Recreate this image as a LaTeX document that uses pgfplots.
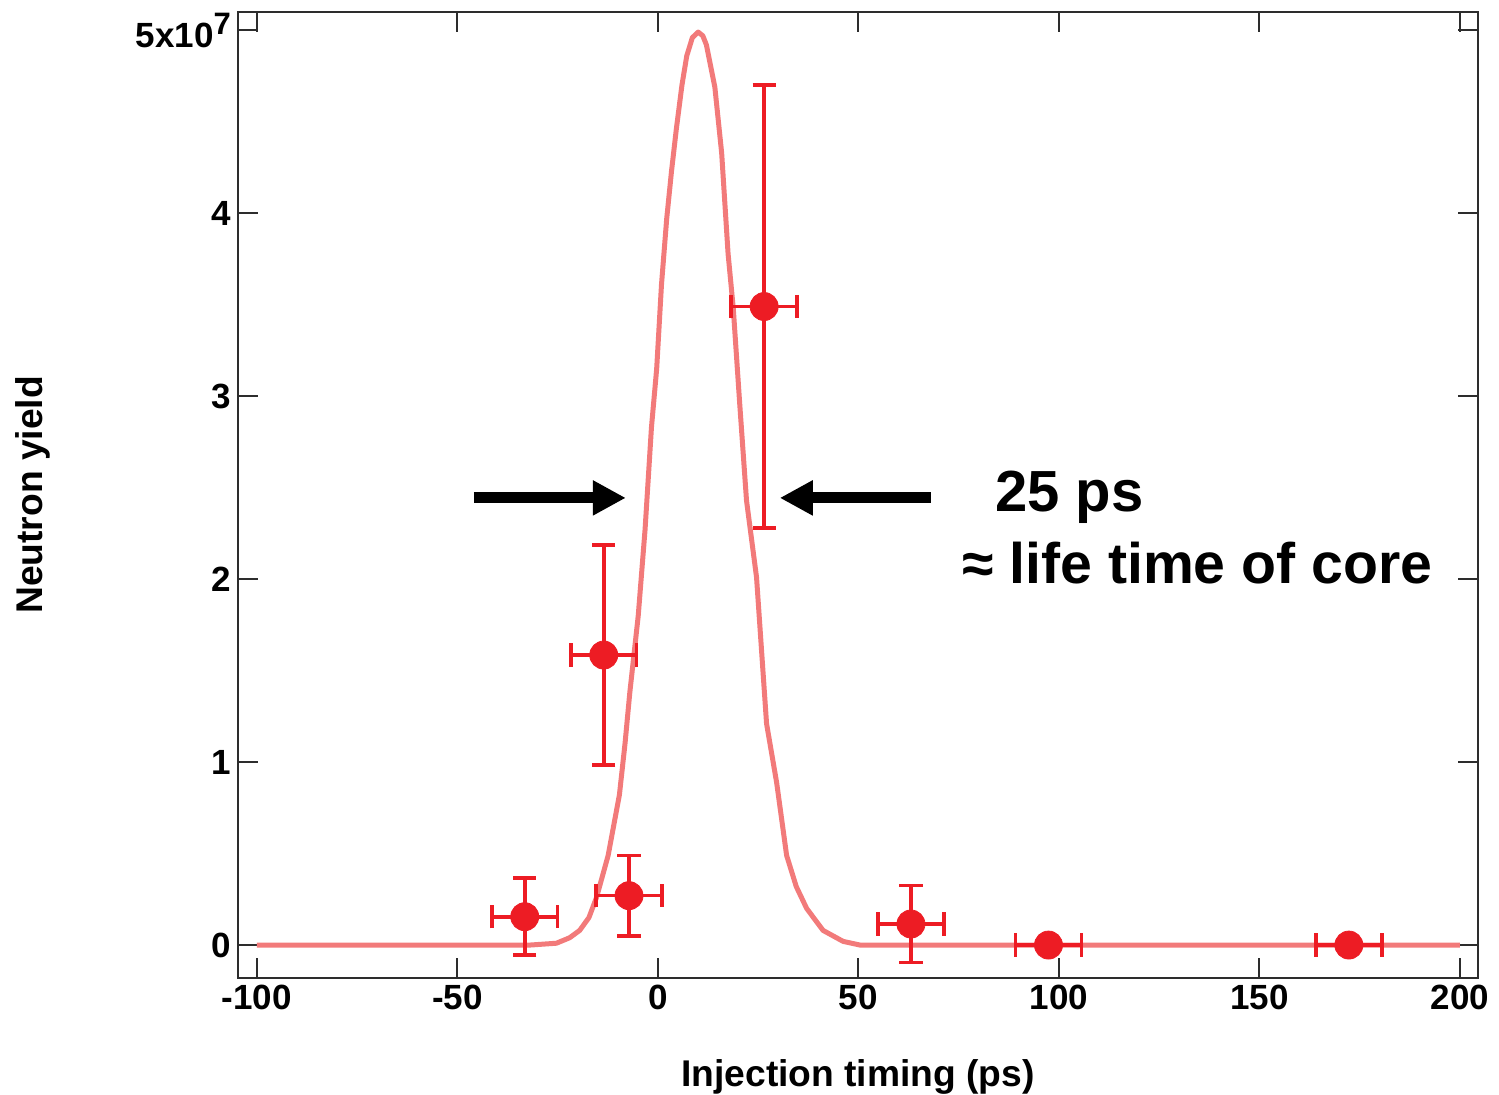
\documentclass[border=0pt]{standalone}
\usepackage{pgfplots}
\pgfplotsset{compat=1.18}
\usepackage{fontspec}
\setmainfont{Liberation Sans}
\usetikzlibrary{arrows.meta}
\definecolor{curvecol}{RGB}{242,122,122}
\definecolor{ptcol}{RGB}{237,28,36}
\definecolor{axcol}{RGB}{45,45,45}
\begin{document}
\begin{tikzpicture}
\path[use as bounding box] (-119pt,-58.5pt) rectangle (630.5pt,489pt);
\begin{axis}[
 at={(0,0)}, anchor=south west,
 scale only axis, width=620pt, height=483pt,
 xmin=-104.7, xmax=204.5, ymin=-0.18, ymax=5.1,
 axis line style={axcol, line width=1pt},
 tick style={axcol, line width=1pt},
 major tick length=10pt, tick align=inside,
 xtick={-100,-50,0,50,100,150,200},
 xticklabels={-100,-50,0,50,100,150,200},
 ytick={0,1,2,3,4,5},
 yticklabels={0,1,2,3,4,{5x10\raisebox{6.5pt}{\fontsize{15.5}{15}\selectfont 7}}},
 tick label style={font=\fontsize{17.5}{20}\selectfont\bfseries},
 xlabel={Injection timing (ps)},
 ylabel={Neutron yield},
 label style={font=\fontsize{18.6}{21}\selectfont\bfseries},
 xlabel style={at={(axis description cs:0.5,-0.1125)}, anchor=base},
 ylabel style={at={(axis description cs:-0.158,0.5)}, anchor=base},
]
\addplot[curvecol, line width=2.5pt, no markers, line join=round] coordinates {
(-100,0) (-40,0) (-31.9,0) (-25.3,0.01) (-22,0.04) (-19.5,0.08) (-17.2,0.15) (-15.3,0.26) (-12.4,0.49)
(-9.6,0.82) (-8.2,1.10) (-7.0,1.38) (-4.9,1.80) (-3.2,2.27) (-1.6,2.83) (-0.3,3.15)
(0.9,3.61) (2.2,3.97) (3.4,4.23) (4.6,4.46) (6.0,4.70) (7.2,4.86) (8.6,4.96) (10.05,4.99)
(11.2,4.97) (12.1,4.92) (14.2,4.69) (15.9,4.33) (17.5,3.78) (18.8,3.48) (20.4,2.96)
(22.1,2.43) (24.6,2.01) (27.1,1.21) (29.6,0.89) (32.1,0.49) (34.5,0.32) (37.1,0.20)
(41.2,0.08) (46.2,0.02) (50.4,0) (100,0) (200,0)
};
\addplot[ptcol, only marks, mark=*, mark size=7pt,
 mark options={fill=ptcol, draw=ptcol},
 error bars/.cd, x dir=both, x explicit, y dir=both, y explicit,
 error mark=|,
 error bar style={line width=1.8pt, ptcol},
 error mark options={line width=1.8pt, mark size=5.8pt, ptcol}]
coordinates {
(-33.2,0.155) +- (8.2,0.21)
(-13.5,1.585) +- (8.2,0.60)
(-7.2,0.27) +- (8.2,0.22)
(26.5,3.49) +- (8.2,1.21)
(63.1,0.115) +- (8.2,0.21)
};
\addplot[ptcol, only marks, mark=*, mark size=7pt,
 mark options={fill=ptcol, draw=ptcol},
 error bars/.cd, x dir=both, x explicit,
 error mark=|,
 error bar style={line width=1.8pt, ptcol},
 error mark options={line width=1.8pt, mark size=5.8pt, ptcol}]
coordinates {
(97.4,0) +- (8.2,0)
(172.3,0) +- (8.2,0)
};
\draw[black, line width=5.5pt, -{Triangle[length=16.5pt,width=16.5pt]}]
 (axis cs:-45.9,2.444) -- (axis cs:-8.0,2.444);
\draw[black, line width=5.5pt, -{Triangle[length=16.5pt,width=16.5pt]}]
 (axis cs:68.1,2.444) -- (axis cs:30.4,2.444);
\node[anchor=base west, inner sep=0pt, font=\fontsize{29}{34}\selectfont\bfseries]
 at (axis cs:84.0,2.368) {25 ps};
\node[anchor=base west, inner sep=0pt, font=\fontsize{28.6}{34}\selectfont\bfseries]
 at (axis cs:75.8,1.978) {≈ life time of core};
\end{axis}
\end{tikzpicture}
\end{document}
